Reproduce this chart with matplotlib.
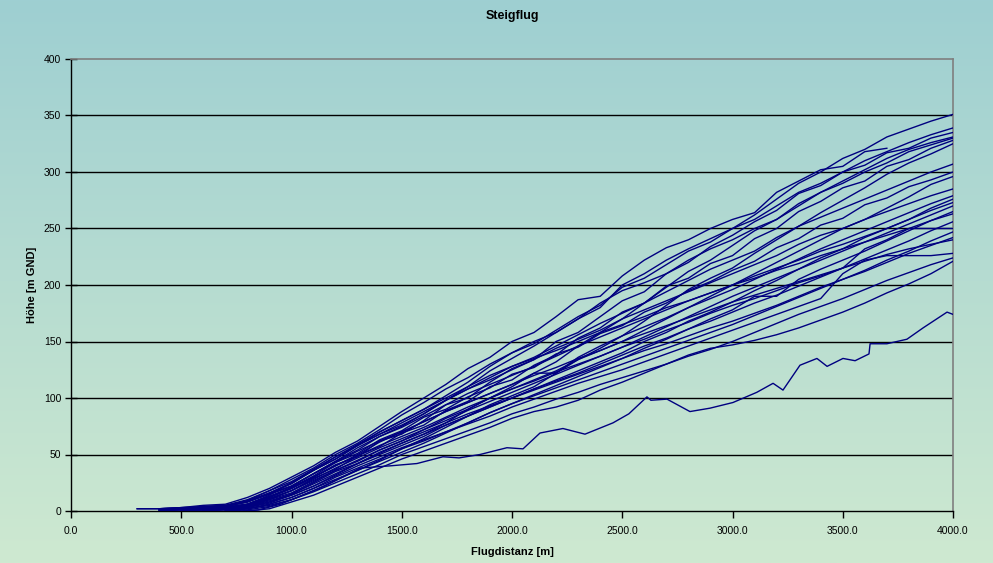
import numpy as np
import matplotlib
matplotlib.use("Agg")
import matplotlib.pyplot as plt

plt.rcParams['font.family'] = ['Liberation Sans', 'DejaVu Sans']

title = "Steigflug"
x_label = "Flugdistanz [m]"
y_label = "Höhe [m GND]"
x_ticks = [0, 500, 1000, 1500, 2000, 2500, 3000, 3500, 4000]
y_ticks = [0, 50, 100, 150, 200, 250, 300, 350, 400]

# shared distance grid (m) for the main flights
dist = [300, 400, 500, 600, 700, 800, 900, 1000, 1100, 1200, 1300, 1400, 1500,
        1600, 1700, 1800, 1900, 2000, 2100, 2200, 2300, 2400, 2500, 2600, 2700,
        2800, 2900, 3000, 3100, 3200, 3300, 3400, 3500, 3600, 3700, 3800, 3900, 4000]
n = np.nan

flight_01 = [n, n, 1, 2, 4, 9, 18, 28, 38, 50, 60, 72, 85, 96, 108, 118, 130, 140, 150, 158, 170, 180, 200, 210, 222, 232, 241, 250, 262, 276, 290, 300, 312, 320, 331, 338, 345, 351]
flight_02 = [n, n, n, 2, 3, 6, 14, 25, 36, 46, 58, 70, 80, 90, 102, 114, 128, 140, 148, 160, 172, 182, 198, 206, 218, 230, 238, 250, 258, 270, 282, 290, 300, 310, 318, 326, 333, 339]
flight_03 = [n, n, 0, 1, 2, 5, 12, 20, 30, 41, 48, 62, 68, 80, 94, 100, 114, 126, 134, 150, 158, 172, 186, 194, 210, 220, 234, 244, 256, 266, 281, 288, 300, 306, 317, 321, 330, 335]
flight_04 = [n, n, n, 0, 1, 3, 8, 15, 25, 35, 42, 52, 60, 68, 78, 90, 100, 110, 122, 132, 146, 158, 170, 184, 198, 212, 222, 235, 248, 258, 272, 282, 292, 302, 312, 320, 326, 331]
flight_05 = [n, 1, 2, 4, 5, 9, 15, 22, 33, 44, 54, 66, 75, 86, 98, 110, 124, 135, 146, 158, 170, 184, 195, 202, 210, 222, 232, 240, 250, 258, 270, 282, 290, 300, 308, 318, 324, 330]
flight_06 = [n, n, 1, 2, 2, 5, 10, 18, 29, 37, 49, 57, 69, 76, 89, 97, 110, 116, 129, 138, 153, 162, 176, 184, 199, 206, 219, 226, 241, 250, 265, 274, 286, 292, 305, 311, 321, 328]
flight_07 = [n, n, n, n, 0, 2, 6, 12, 20, 30, 38, 46, 55, 64, 74, 84, 94, 102, 110, 122, 134, 144, 155, 168, 182, 196, 206, 215, 228, 240, 252, 264, 275, 286, 298, 308, 316, 325]
flight_08 = [n, 2, 3, 5, 6, 12, 20, 30, 40, 52, 62, 75, 88, 100, 112, 126, 136, 150, 158, 172, 187, 190, 208, 222, 233, 240, 250, 258, 264, 282, 292, 302, 305, 318, 321, n, n, n]
flight_09 = [2, 2, 3, 3, 4, 8, 16, 24, 36, 46, 58, 68, 78, 88, 98, 108, 118, 128, 136, 146, 156, 166, 175, 184, 194, 204, 214, 222, 230, 242, 252, 260, 268, 276, 284, 292, 300, 307]
flight_10 = [n, 1, 1, 2, 3, 6, 13, 21, 31, 43, 51, 63, 71, 83, 90, 101, 109, 121, 127, 139, 145, 157, 164, 176, 184, 195, 203, 213, 221, 233, 241, 253, 259, 271, 277, 287, 293, 300]
flight_11 = [n, n, 1, 1, 2, 4, 10, 16, 26, 36, 44, 54, 62, 72, 82, 90, 100, 108, 116, 124, 134, 142, 150, 160, 170, 180, 190, 200, 210, 220, 230, 240, 250, 258, 268, 278, 289, 296]
flight_12 = [n, n, 2, 3, 4, 9, 16, 25, 36, 48, 58, 68, 76, 86, 98, 108, 116, 125, 134, 144, 152, 160, 170, 178, 186, 194, 202, 210, 218, 226, 236, 244, 250, 258, 265, 272, 279, 285]
flight_13 = [n, 0, 1, 2, 3, 6, 12, 20, 30, 40, 50, 61, 70, 79, 88, 96, 104, 112, 122, 122, 136, 146, 155, 163, 171, 180, 188, 196, 205, 214, 223, 232, 240, 248, 256, 264, 272, 279]
flight_14 = [n, n, n, 1, 2, 4, 8, 14, 22, 32, 42, 50, 58, 66, 76, 84, 92, 100, 108, 116, 124, 132, 140, 150, 158, 168, 176, 185, 195, 204, 214, 224, 232, 242, 250, 258, 268, 276]
flight_15 = [n, 1, 2, 3, 4, 8, 15, 22, 33, 44, 56, 66, 74, 84, 94, 104, 112, 120, 128, 137, 146, 154, 162, 170, 178, 186, 193, 200, 208, 215, 222, 230, 236, 243, 250, 258, 266, 273]
flight_16 = [n, n, 0, 1, 2, 5, 11, 18, 28, 38, 47, 56, 64, 72, 80, 89, 97, 105, 113, 121, 129, 137, 145, 154, 163, 172, 181, 190, 198, 206, 214, 222, 230, 238, 246, 254, 262, 270]
flight_17 = [n, n, n, n, 0, 2, 5, 10, 18, 27, 36, 44, 52, 60, 69, 78, 87, 95, 103, 111, 119, 127, 135, 144, 152, 161, 170, 178, 190, 190, 205, 214, 222, 230, 239, 248, 257, 265]
flight_18 = [2, 2, 3, 4, 5, 10, 18, 26, 37, 48, 59, 70, 80, 90, 100, 110, 120, 128, 135, 142, 150, 158, 165, 172, 180, 186, 193, 200, 206, 213, 219, 226, 232, 238, 244, 250, 257, 263]
flight_19 = [n, n, 1, 1, 2, 4, 9, 15, 24, 33, 42, 51, 60, 68, 76, 84, 92, 100, 108, 115, 122, 130, 138, 146, 153, 161, 168, 176, 184, 191, 199, 207, 215, 223, 231, 239, 248, 256]
flight_20 = [n, 0, 1, 2, 3, 6, 13, 20, 30, 40, 49, 58, 66, 74, 83, 92, 100, 108, 115, 123, 130, 137, 145, 152, 160, 167, 175, 182, 188, 195, 202, 208, 215, 232, 240, 250, 250, 250]
flight_21 = [n, n, n, 0, 1, 2, 6, 12, 20, 28, 36, 45, 55, 62, 70, 78, 87, 95, 102, 109, 116, 123, 130, 137, 144, 151, 158, 165, 173, 181, 189, 197, 205, 213, 222, 230, 239, 247]
flight_22 = [n, n, 1, 2, 2, 5, 11, 18, 27, 36, 45, 54, 62, 70, 78, 86, 93, 100, 107, 114, 121, 128, 135, 142, 148, 155, 162, 168, 175, 182, 190, 198, 205, 212, 220, 228, 235, 242]
flight_23 = [n, 1, 2, 3, 4, 8, 15, 22, 33, 43, 53, 62, 70, 79, 88, 96, 104, 112, 120, 127, 135, 142, 150, 157, 164, 171, 178, 185, 191, 197, 203, 209, 215, 221, 227, 232, 236, 240]
flight_24 = [n, n, n, 1, 2, 3, 7, 14, 22, 31, 40, 48, 56, 63, 70, 77, 84, 92, 99, 106, 113, 119, 125, 132, 139, 146, 153, 160, 167, 174, 181, 188, 210, 222, 226, 226, 226, 228]
flight_25 = [n, n, n, n, 0, 1, 4, 10, 17, 25, 33, 41, 50, 57, 64, 71, 78, 86, 92, 99, 105, 112, 118, 124, 130, 137, 143, 150, 158, 166, 174, 181, 188, 196, 204, 211, 218, 224]
flight_26 = [n, n, n, n, 0, 0, 2, 8, 14, 22, 30, 38, 46, 53, 60, 67, 74, 82, 88, 92, 98, 107, 114, 122, 130, 138, 144, 147, 151, 156, 162, 169, 176, 184, 193, 201, 210, 221]

# the low outlier flight with its own distance samples
dist_low = [780, 850, 950, 1050, 1150, 1250, 1311, 1450, 1569, 1687, 1760, 1855, 1977, 2050,
            2127, 2231, 2331, 2458, 2530, 2612, 2630, 2703, 2807, 2898, 3002, 3110, 3184,
            3229, 3306, 3383, 3429, 3501, 3556, 3619, 3624, 3700, 3791, 3864, 3973, 4000]
height_low = [0, 1, 6, 14, 22, 32, 38, 40, 42, 48, 47, 50, 56, 55, 69, 73, 68, 78, 86, 101,
              98, 99, 88, 91, 96, 105, 113, 107, 129, 135, 128, 135, 133, 139, 148, 148, 152,
              162, 176, 174]

flights = [flight_01, flight_02, flight_03, flight_04, flight_05, flight_06, flight_07,
           flight_08, flight_09, flight_10, flight_11, flight_12, flight_13, flight_14,
           flight_15, flight_16, flight_17, flight_18, flight_19, flight_20, flight_21,
           flight_22, flight_23, flight_24, flight_25, flight_26]

W, H = 993, 563
fig = plt.figure(figsize=(W / 100, H / 100), dpi=100)

# gradient background
bg = fig.add_axes([0, 0, 1, 1], zorder=0)
top = np.array([158, 207, 210]) / 255.0
bot = np.array([206, 233, 208]) / 255.0
t = np.linspace(0, 1, 256)[:, None]
grad = (top[None, :] * (1 - t) + bot[None, :] * t)[:, None, :]
bg.imshow(grad, aspect='auto', extent=[0, 1, 0, 1])
bg.set_axis_off()

ax = fig.add_axes([71 / W, 1 - 511 / H, (953 - 71) / W, (511 - 59) / H], zorder=1)
ax.patch.set_alpha(0)

line_color = '#000080'
for f in flights:
    ax.plot(dist, f, color=line_color, lw=1.0, zorder=3)
ax.plot(dist_low, height_low, color=line_color, lw=1.0, zorder=3)

ax.set_xlim(0, 4000)
ax.set_ylim(0, 400)
ax.set_xticks(x_ticks)
ax.set_xticklabels([f"{v:.1f}" for v in x_ticks], fontsize=7.5)
ax.set_yticks(y_ticks)
ax.set_yticklabels([str(v) for v in y_ticks], fontsize=7.5)
for v in y_ticks[1:-1]:
    ax.axhline(v, color='black', lw=1.0, zorder=2)

for s in ['left', 'bottom']:
    ax.spines[s].set_color('black')
    ax.spines[s].set_linewidth(1.0)
for s in ['top', 'right']:
    ax.spines[s].set_color('#7f7f7f')
    ax.spines[s].set_linewidth(1.2)

ax.tick_params(axis='y', direction='inout', length=8, width=1, pad=3)
ax.tick_params(axis='x', direction='out', length=5, width=1, pad=6)

ax.set_xlabel(x_label, fontsize=8, fontweight='bold', labelpad=8)
ax.set_ylabel(y_label, fontsize=8, fontweight='bold', labelpad=5)
fig.text(0.5 * (71 + 953) / W, 1 - 16 / H, title, ha='center', va='center',
         fontsize=9, fontweight='bold')

fig.savefig('out.png', dpi=100)
